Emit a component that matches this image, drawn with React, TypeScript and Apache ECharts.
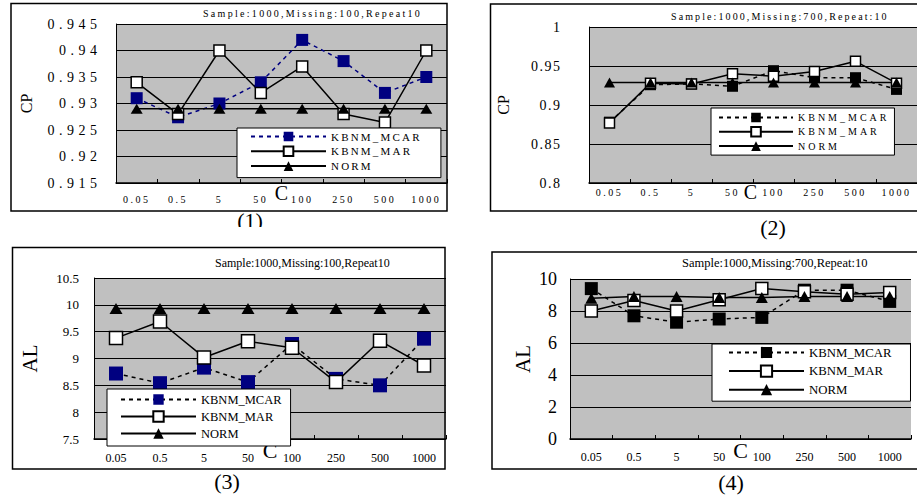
import React, { useEffect, useRef } from 'react';
import * as echarts from 'echarts';

const categories = ['0.05', '0.5', '5', '50', '100', '250', '500', '1000'];
const seriesNames = ['KBNM_MCAR', 'KBNM_MAR', 'NORM'];

// Panel (1): CP, Missing 100
const cp100Mcar = [0.931, 0.9274, 0.93, 0.934, 0.942, 0.938, 0.932, 0.935];
const cp100Mar = [0.934, 0.928, 0.94, 0.932, 0.937, 0.928, 0.9264, 0.94];
const cp100Norm = [0.929, 0.929, 0.929, 0.929, 0.929, 0.929, 0.929, 0.929];
const cp100Ticks = ['0.945', '0.94', '0.935', '0.93', '0.925', '0.92', '0.915'];

// Panel (2): CP, Missing 700
const cp700Mcar = [0.878, 0.926, 0.927, 0.924, 0.944, 0.935, 0.935, 0.92];
const cp700Mar = [0.877, 0.928, 0.927, 0.94, 0.937, 0.943, 0.956, 0.928];
const cp700Norm = [0.929, 0.929, 0.929, 0.929, 0.929, 0.929, 0.929, 0.929];
const cp700Ticks = ['1', '0.95', '0.9', '0.85', '0.8'];

// Panel (3): AL, Missing 100
const al100Mcar = [8.72, 8.54, 8.83, 8.56, 9.27, 8.62, 8.5, 9.37];
const al100Mar = [9.38, 9.69, 9.02, 9.32, 9.2, 8.56, 9.33, 8.87];
const al100Norm = [9.93, 9.93, 9.93, 9.93, 9.93, 9.93, 9.93, 9.93];

// Panel (4): AL, Missing 700
const al700Mcar = [9.4, 7.7, 7.3, 7.5, 7.6, 9.3, 9.3, 8.6];
const al700Mar = [8.0, 8.65, 8.0, 8.7, 9.4, 9.2, 9.05, 9.15];
const al700Norm = [8.8, 8.9, 8.9, 8.85, 8.85, 8.9, 8.9, 8.9];

const titles = [
  'Sample:1000,Missing:100,Repeat10',
  'Sample:1000,Missing:700,Repeat:10',
  'Sample:1000,Missing:100,Repeat10',
  'Sample:1000,Missing:700,Repeat:10',
];
const captions = ['(1)', '(2)', '(3)', '(4)'];

const FONT = '"Liberation Serif", "Times New Roman", serif';

type Panel = {
  mcar: number[];
  mar: number[];
  norm: number[];
  yName: string;
  yMin: number;
  yMax: number;
  yInterval: number;
  grid: [number, number, number, number];
  frame: [number, number, number, number];
  title: string;
  titlePos: [number, number];
  titleSize: number;
  caption: string;
  captionPos: [number, number];
  yLabelSize: number;
  yLabelMargin: number;
  yNameSize: number;
  yNameGap: number;
  xLabelSize: number;
  xLabelMargin: number;
  xNameSize: number;
  xNameGap: number;
  xNamePad: number[];
  legend: { left: number; top: number; padding: number[]; itemWidth: number; itemHeight: number; itemGap: number; fontSize: number };
  mcarColor: string;
  mcarLine: string;
  sq: number;
  tri: number[];
  extra?: any[];
};

function buildOption(p: Panel) {
  const txt = (size: number) => ({ fontFamily: FONT, fontSize: size, color: '#000' });
  return {
    animation: false,
    textStyle: { fontFamily: FONT },
    grid: {
      left: p.grid[0],
      top: p.grid[1],
      width: p.grid[2],
      height: p.grid[3],
      show: true,
      backgroundColor: '#c0c0c0',
      borderWidth: 0,
      containLabel: false,
    },
    xAxis: {
      type: 'category',
      data: categories,
      boundaryGap: true,
      name: 'C',
      nameLocation: 'middle',
      nameGap: p.xNameGap,
      nameMoveOverlap: false,
      nameTextStyle: { ...txt(p.xNameSize), padding: p.xNamePad },
      axisLine: { show: true, lineStyle: { color: '#000', width: 1.5 } },
      axisTick: { show: true, inside: true, length: 4, lineStyle: { color: '#000', width: 1 } },
      axisLabel: { interval: 0, margin: p.xLabelMargin, ...txt(p.xLabelSize) },
      splitLine: { show: false },
    },
    yAxis: {
      type: 'value',
      min: p.yMin,
      max: p.yMax,
      interval: p.yInterval,
      name: p.yName,
      nameLocation: 'middle',
      nameRotate: 90,
      nameGap: p.yNameGap,
      nameMoveOverlap: false,
      nameTextStyle: txt(p.yNameSize),
      axisLine: { show: true, lineStyle: { color: '#000', width: 1 } },
      axisTick: { show: false },
      axisLabel: { margin: p.yLabelMargin, ...txt(p.yLabelSize) },
      splitLine: { show: true, lineStyle: { color: '#000', width: 1 } },
    },
    legend: {
      show: true,
      orient: 'vertical',
      left: p.legend.left,
      top: p.legend.top,
      padding: p.legend.padding,
      itemWidth: p.legend.itemWidth,
      itemHeight: p.legend.itemHeight,
      itemGap: p.legend.itemGap,
      backgroundColor: '#fff',
      borderColor: '#000',
      borderWidth: 1,
      selectedMode: false,
      textStyle: txt(p.legend.fontSize),
      data: seriesNames,
    },
    series: [
      {
        name: seriesNames[0],
        type: 'line',
        data: p.mcar,
        symbol: 'rect',
        symbolSize: p.sq,
        silent: true,
        itemStyle: { color: p.mcarColor },
        lineStyle: { color: p.mcarLine, width: 1.5, type: [4, 4] },
      },
      {
        name: seriesNames[1],
        type: 'line',
        data: p.mar,
        symbol: 'rect',
        symbolSize: p.sq - 1,
        silent: true,
        itemStyle: { color: '#fff', borderColor: '#000', borderWidth: 1.5 },
        lineStyle: { color: '#000', width: 1.5 },
      },
      {
        name: seriesNames[2],
        type: 'line',
        data: p.norm,
        symbol: 'triangle',
        symbolSize: p.tri,
        silent: true,
        itemStyle: { color: '#000' },
        lineStyle: { color: '#000', width: 1.5 },
      },
    ],
    graphic: [
      {
        type: 'rect',
        silent: true,
        z: 0,
        shape: { x: p.frame[0], y: p.frame[1], width: p.frame[2], height: p.frame[3] },
        style: { fill: 'none', stroke: '#000', lineWidth: 1.5 },
      },
      {
        type: 'text',
        silent: true,
        x: p.titlePos[0],
        y: p.titlePos[1],
        style: {
          text: p.title,
          fontFamily: FONT,
          fontSize: p.titleSize,
          fill: '#000',
          align: 'left',
          verticalAlign: 'middle',
        },
      },
      {
        type: 'text',
        silent: true,
        z: 1,
        x: p.captionPos[0],
        y: p.captionPos[1],
        style: {
          text: p.caption,
          fontFamily: FONT,
          fontSize: 22,
          fill: '#000',
          align: 'center',
          verticalAlign: 'middle',
        },
      },
      ...(p.extra || []),
    ],
  };
}

const panels: Panel[] = [
  {
    mcar: cp100Mcar,
    mar: cp100Mar,
    norm: cp100Norm,
    yName: 'CP',
    yMin: 0.915,
    yMax: 0.945,
    yInterval: 0.005,
    grid: [116, 24, 331, 159],
    frame: [11, 3.5, 436, 207.5],
    title: titles[0],
    titlePos: [203, 13],
    titleSize: 10,
    caption: captions[0],
    captionPos: [250, 220],
    yLabelSize: 14,
    yLabelMargin: 14.5,
    yNameSize: 16,
    yNameGap: 82,
    xLabelSize: 10,
    xLabelMargin: 11,
    xNameSize: 20,
    xNameGap: 0,
    xNamePad: [0, 0, 0, 0],
    legend: { left: 237, top: 128, padding: [3, 39, 6, 13], itemWidth: 75, itemHeight: 12, itemGap: 3.5, fontSize: 11 },
    mcarColor: '#000080',
    mcarLine: '#000080',
    sq: 12,
    tri: [12, 10],
    extra: [
      { type: 'rect', silent: true, z: 5, shape: { x: 215, y: 227, width: 70, height: 19 }, style: { fill: '#fff' } },
    ],
  },
  {
    mcar: cp700Mcar,
    mar: cp700Mar,
    norm: cp700Norm,
    yName: 'CP',
    yMin: 0.8,
    yMax: 1,
    yInterval: 0.05,
    grid: [589, 27, 337, 156],
    frame: [490.5, 4, 500, 207],
    title: titles[1],
    titlePos: [671, 16.7],
    titleSize: 10,
    caption: captions[1],
    captionPos: [773, 227],
    yLabelSize: 14,
    yLabelMargin: 27.5,
    yNameSize: 16,
    yNameGap: 78,
    xLabelSize: 10,
    xLabelMargin: 4,
    xNameSize: 20,
    xNameGap: -1,
    xNamePad: [0, 5, 0, 0],
    legend: { left: 711, top: 108, padding: [4.5, 32, 4, 7], itemWidth: 74, itemHeight: 12, itemGap: 3.5, fontSize: 10 },
    mcarColor: '#000',
    mcarLine: '#000',
    sq: 11,
    tri: [11, 10],
  },
  {
    mcar: al100Mcar,
    mar: al100Mar,
    norm: al100Norm,
    yName: 'AL',
    yMin: 7.5,
    yMax: 10.5,
    yInterval: 0.5,
    grid: [94, 278, 352, 161],
    frame: [12.5, 247.5, 432.5, 221.5],
    title: titles[2],
    titlePos: [215, 263],
    titleSize: 12,
    caption: captions[2],
    captionPos: [227, 481],
    yLabelSize: 13,
    yLabelMargin: 15,
    yNameSize: 21,
    yNameGap: 53.5,
    xLabelSize: 12,
    xLabelMargin: 13,
    xNameSize: 22,
    xNameGap: 0,
    xNamePad: [0, 0, 0, 0],
    legend: { left: 107, top: 389, padding: [4, 9, 6, 13], itemWidth: 75, itemHeight: 13, itemGap: 4, fontSize: 12.5 },
    mcarColor: '#000080',
    mcarLine: '#000',
    sq: 14,
    tri: [13, 11],
  },
  {
    mcar: al700Mcar,
    mar: al700Mar,
    norm: al700Norm,
    yName: 'AL',
    yMin: 0,
    yMax: 10,
    yInterval: 2,
    grid: [570, 279, 341, 160],
    frame: [492, 252, 500, 217],
    title: titles[3],
    titlePos: [682, 263],
    titleSize: 12.5,
    caption: captions[3],
    captionPos: [731, 482],
    yLabelSize: 18,
    yLabelMargin: 13,
    yNameSize: 21,
    yNameGap: 36.5,
    xLabelSize: 12,
    xLabelMargin: 12,
    xNameSize: 22,
    xNameGap: 0,
    xNamePad: [0, 0, 0, 0],
    legend: { left: 712, top: 344, padding: [2, 19, 5, 16], itemWidth: 75, itemHeight: 14, itemGap: 5.5, fontSize: 12.8 },
    mcarColor: '#000',
    mcarLine: '#000',
    sq: 13,
    tri: [12, 11],
  },
];

type Rule = ((s: string) => number) | null;

const spacingRules: Rule[] = [
  (s) => {
    if (cp100Ticks.includes(s)) return 4.5;
    if (categories.includes(s)) return 2.5;
    if (s === titles[0]) return 2.3;
    if (seriesNames.includes(s)) return 2.2;
    return 0;
  },
  (s) => {
    if (cp700Ticks.includes(s)) return 1.5;
    if (categories.includes(s)) return 2.5;
    if (s === titles[1]) return 2.1;
    if (seriesNames.includes(s)) return 3;
    return 0;
  },
  null,
  null,
];

function applySpacing(dom: HTMLElement | null, rule: Rule) {
  if (!dom || !rule) return;
  dom.querySelectorAll('text').forEach((t) => {
    const ls = rule((t.textContent || '').trim());
    if (ls) (t as SVGTextElement).style.letterSpacing = ls + 'px';
  });
}

function ChartPanel({ panel, rule }: { panel: Panel; rule: Rule }) {
  const ref = useRef<HTMLDivElement>(null);
  useEffect(() => {
    if (!ref.current) return;
    const chart = echarts.init(ref.current, null, { renderer: 'svg' });
    chart.setOption(buildOption(panel) as any);
    const apply = () => applySpacing(ref.current, rule);
    apply();
    chart.on('finished', apply);
    const t1 = setTimeout(apply, 30);
    const t2 = setTimeout(apply, 200);
    return () => {
      clearTimeout(t1);
      clearTimeout(t2);
      chart.dispose();
    };
  }, []);
  return <div ref={ref} style={{ position: 'absolute', left: 0, top: 0, width: 917, height: 495 }} />;
}

export default function App() {
  return (
    <div
      style={{
        position: 'fixed',
        left: 0,
        top: 0,
        width: 917,
        height: 495,
        overflow: 'hidden',
        background: '#fff',
      }}
    >
      {panels.map((p, i) => (
        <ChartPanel key={i} panel={p} rule={spacingRules[i]} />
      ))}
    </div>
  );
}
